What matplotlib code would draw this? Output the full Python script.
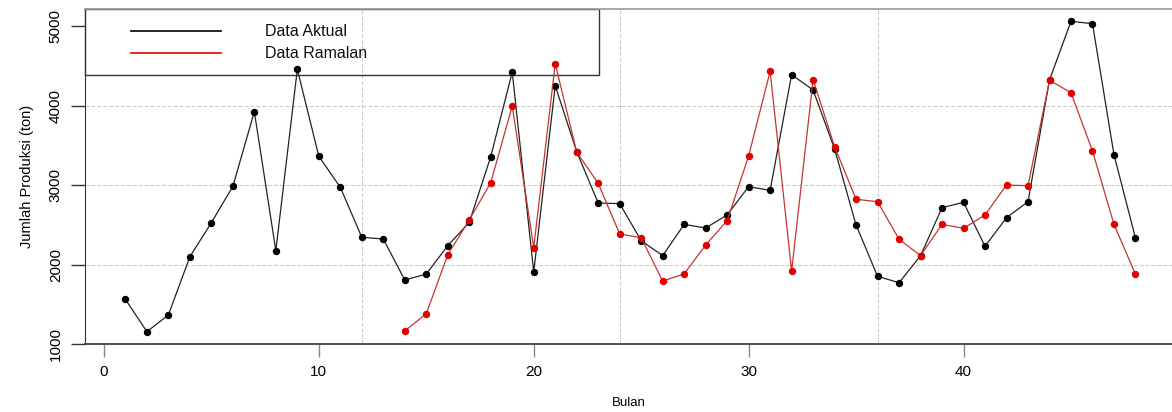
import matplotlib.pyplot as plt
from matplotlib.patches import Rectangle

plt.rcParams['font.family'] = ['Liberation Sans', 'DejaVu Sans']

# data
bulan_aktual = list(range(1, 49))
aktual = [1562, 1155, 1365, 2098, 2526, 2983, 3922, 2174, 4455, 3361,
          2971, 2342, 2321, 1805, 1880, 2237, 2530, 3356, 4421, 1906,
          4249, 3419, 2774, 2765, 2300, 2111, 2505, 2459, 2623, 2979,
          2933, 4388, 4195, 3453, 2497, 1851, 1771, 2111, 2715, 2782,
          2229, 2589, 2790, 4321, 5059, 5029, 3381, 2333]

bulan_ramalan = list(range(14, 49))
ramalan = [1164, 1381, 2123, 2560, 3029, 3994, 2211, 4526, 3415, 3021,
           2384, 2337, 1792, 1881, 2245, 2551, 3365, 4430, 1918, 4325,
           3482, 2820, 2790, 2317, 2111, 2505, 2455, 2623, 3000, 2991,
           4317, 4161, 3428, 2505, 1877]

x_ticks = [0, 10, 20, 30, 40]
y_ticks = [1000, 2000, 3000, 4000, 5000]
grid_x = [12, 24, 36]
grid_y = [2000, 3000, 4000]

W, H = 1172, 412
left_px, top_px, bottom_px = 85, 9, 344
ax_w_px = W - left_px
ax_h_px = bottom_px - top_px

fig = plt.figure(figsize=(W / 100, H / 100), dpi=100)
ax = fig.add_axes([left_px / W, (H - bottom_px) / H, ax_w_px / W, ax_h_px / H])

ax.set_xlim(-0.88, 49.7)
ax.set_ylim(1000, 5214)

# grid
for gx in grid_x:
    ax.axvline(gx, color='#cccccc', ls='--', lw=0.8, zorder=0)
for gy in grid_y:
    ax.axhline(gy, color='#cccccc', ls='--', lw=0.8, zorder=0)

# series
ax.plot(bulan_aktual, aktual, color='#222222', lw=0.9, marker='o', ms=4.3,
        mfc='black', mec='black', zorder=3, clip_on=False)
ax.plot(bulan_ramalan, ramalan, color='#c83232', lw=0.9, marker='o', ms=4.3,
        mfc='#e00000', mec='#e00000', zorder=4, clip_on=False)

# axes look
ax.spines['right'].set_visible(False)
ax.spines['top'].set_color('#999999')
ax.spines['top'].set_linewidth(1.2)
ax.spines['left'].set_color('#333333')
ax.spines['bottom'].set_color('#333333')
ax.spines['bottom'].set_linewidth(1.2)

ax.set_xticks(x_ticks)
ax.set_yticks(y_ticks)
ax.tick_params(axis='x', length=9, width=1, color='#888888', labelsize=11, pad=6)
ax.tick_params(axis='y', length=10, width=1, color='#333333', labelsize=11,
               labelrotation=90, pad=6)
for lab in ax.get_yticklabels():
    lab.set_va('center')

ax.set_xlabel('Bulan', fontsize=9.5, labelpad=13)
ax.set_ylabel('Jumlah Produksi (ton)', fontsize=10.5, labelpad=11)

# legend box
bw = (599 - left_px) / ax_w_px
bh = (75 - top_px) / ax_h_px
ax.add_patch(Rectangle((0, 1 - bh), bw, bh, transform=ax.transAxes,
                       fill=False, ec='#333333', lw=1.0, zorder=2, clip_on=False))
rows = [('Data Aktual', 'black', 31), ('Data Ramalan', '#e00000', 53)]
for label, col, py in rows:
    yy = 1 - (py - top_px) / ax_h_px
    ax.plot([(131 - left_px) / ax_w_px, (221 - left_px) / ax_w_px], [yy, yy],
            transform=ax.transAxes, color=col, lw=1.2, clip_on=False)
    ax.text((265 - left_px) / ax_w_px, yy, label, transform=ax.transAxes,
            fontsize=11.5, va='center', ha='left', color='#111111')

fig.savefig('out.png', dpi=100)
